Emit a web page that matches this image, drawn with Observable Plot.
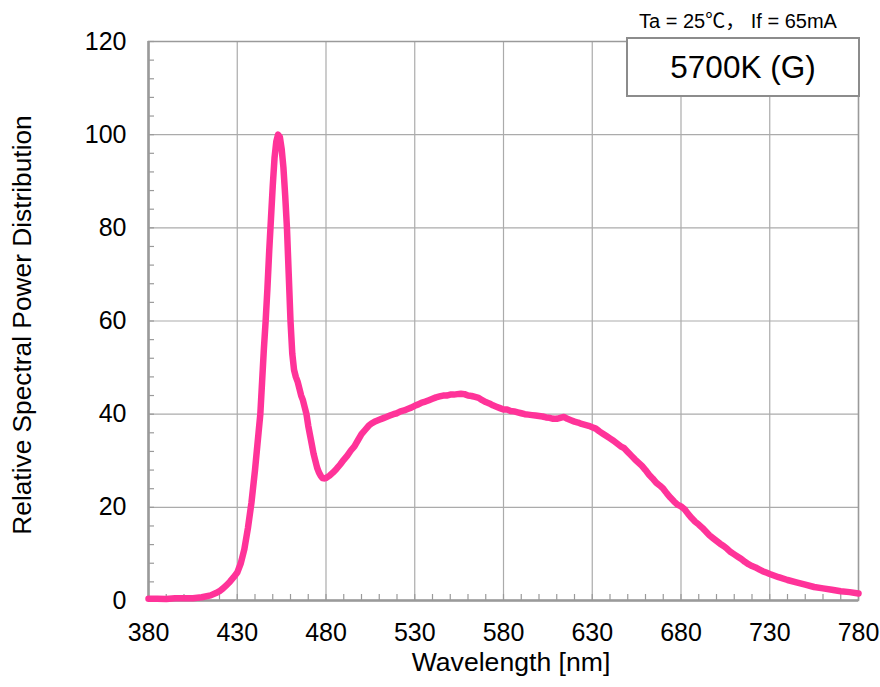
<!DOCTYPE html>
<html>
<head>
<meta charset="utf-8">
<script src="https://cdn.jsdelivr.net/npm/d3@7"></script>
<script src="https://cdn.jsdelivr.net/npm/@observablehq/plot@0.6"></script>
<style>
  html, body { margin: 0; padding: 0; background: #fff; }
  #wrap { position: relative; width: 880px; height: 687px; font-family: "Liberation Sans", Arial, "Noto Sans CJK JP", sans-serif; color: #000; }
  #wrap svg { position: absolute; left: 0; top: 0; }
  .ann { position: absolute; white-space: pre; }
</style>
</head>
<body>
<div id="wrap"></div>
<script>
// Wavelength (nm) and relative spectral power
const wavelength = [380,385,390,395,400,405,410,415,418,420,422,424,426,428,430,432,434,436,438,440,441,442,443,444,445,446,447,448,449,450,451,452,453,454,455,456,457,458,459,460,461,462,463,464,465,466,467,468,469,470,471,472,473,474,475,476,477,478,479,480,482,484,486,488,490,492,494,496,498,500,502,504,506,508,510,512,514,516,518,520,522,524,526,528,530,532,534,536,538,540,542,544,546,548,550,552,554,556,558,560,562,564,566,568,570,572,574,576,578,580,582,584,586,588,590,592,594,596,598,600,602,604,606,608,610,612,614,616,618,620,622,624,626,628,630,632,634,636,638,640,642,644,646,648,650,652,654,656,658,660,662,664,666,668,670,672,674,676,678,680,682,684,686,688,690,692,694,696,698,700,702,704,706,708,710,712,714,716,718,720,722,724,726,728,730,735,740,745,750,755,760,765,770,775,780];
const power = [0.4,0.4,0.3,0.5,0.5,0.5,0.7,1.1,1.6,2.0,2.6,3.3,4.1,5.0,6.0,8.0,11,15.5,21,28,32,36,40,47,54,60,67,75,82,89,95,98.5,100,99.5,97,93,87,80,70,60,53,49.5,48,47,45.5,44,43,41.5,40,37.5,35.5,33.5,31.5,30,28.5,27.5,26.8,26.3,26.2,26.3,26.8,27.5,28.3,29.2,30.2,31.1,32.2,33.1,34.4,35.7,36.6,37.5,38.1,38.5,38.8,39.1,39.4,39.7,40.0,40.2,40.6,40.8,41.1,41.4,41.8,42.1,42.5,42.7,43.0,43.3,43.6,43.8,44.0,44.0,44.2,44.2,44.3,44.4,44.3,44.0,43.9,43.7,43.5,43.0,42.6,42.3,41.9,41.6,41.3,41.0,41.0,40.7,40.6,40.4,40.2,40.0,39.9,39.8,39.7,39.6,39.5,39.3,39.2,39.0,39.0,39.2,39.4,39.0,38.7,38.4,38.2,37.9,37.7,37.5,37.2,36.9,36.3,35.8,35.3,34.8,34.3,33.7,33.1,32.7,31.9,31.1,30.3,29.6,28.9,28.0,27.0,26.2,25.3,24.7,24.0,23.0,22.1,21.3,20.6,20.2,19.6,18.6,17.7,16.9,16.3,15.6,14.8,14.0,13.4,12.8,12.2,11.7,11.1,10.4,9.9,9.4,8.9,8.3,7.8,7.4,7.1,6.7,6.3,6.0,5.7,5.0,4.4,3.9,3.4,2.9,2.6,2.3,2.0,1.8,1.5];

const xTicks = [380,430,480,530,580,630,680,730,780];
const yTicks = [0,20,40,60,80,100,120];
const xMinor = d3.range(380, 781, 10);
const yMinor = d3.range(0, 121, 4);

const xLabel = "Wavelength [nm]";
const yLabel = "Relative Spectral Power Distribution";
const condition = "Ta = 25℃， If = 65mA";
const boxLabel = "5700K (G)";

const data = wavelength.map((w, i) => ({w, p: power[i]}));

const gridColor = "#ababab";
const axisColor = "#9a9a9a";

const chart = Plot.plot({
  width: 880,
  height: 687,
  marginLeft: 148,
  marginRight: 22,
  marginTop: 41,
  marginBottom: 87,
  style: {fontFamily: "'Liberation Sans', Arial, sans-serif", fontSize: "25px", color: "#000", background: "#fff"},
  x: {domain: [380, 780], label: null},
  y: {domain: [0, 120], label: null},
  marks: [
    Plot.gridX(xTicks, {stroke: gridColor, strokeOpacity: 1, strokeWidth: 1.2}),
    Plot.gridY(yTicks, {stroke: gridColor, strokeOpacity: 1, strokeWidth: 1.2}),
    Plot.frame({stroke: axisColor, strokeWidth: 1.5}),
    Plot.axisX(xMinor, {tickSize: -6, tickFormat: () => "", stroke: axisColor, strokeWidth: 1.2}),
    Plot.axisY(yMinor, {tickSize: -6, tickFormat: () => "", stroke: axisColor, strokeWidth: 1.2}),
    Plot.axisX(xTicks, {tickSize: 0, tickPadding: 23, fontSize: 25, fill: "#000", label: null}),
    Plot.axisY(yTicks, {tickSize: 0, tickPadding: 22, fontSize: 25, fill: "#000", label: null}),
    Plot.ruleX([380], {stroke: axisColor, strokeWidth: 2.5}),
    Plot.ruleY([0], {stroke: axisColor, strokeWidth: 2.5}),
    Plot.line(data, {x: "w", y: "p", stroke: "#ff3399", strokeWidth: 6.5, strokeLinejoin: "round", strokeLinecap: "round", curve: "linear"})
  ]
});

const wrap = document.getElementById("wrap");
wrap.appendChild(chart);

function ann(text, css) {
  const d = document.createElement("div");
  d.className = "ann";
  d.textContent = text;
  Object.assign(d.style, css);
  wrap.appendChild(d);
  return d;
}

// condition text
ann(condition, {left: "628px", top: "5px", fontSize: "20px", width: "220px", textAlign: "center"});
// boxed label
ann(boxLabel, {left: "626px", top: "37px", width: "230px", height: "56px", lineHeight: "56px", border: "2px solid #8c8c8c", background: "#fff", textAlign: "center", fontSize: "31.5px", boxSizing: "content-box"});
// x label
ann(xLabel, {left: "311px", top: "647px", width: "400px", textAlign: "center", fontSize: "26.6px"});
// y label
ann(yLabel, {left: "22px", top: "325px", fontSize: "26.3px", transform: "translate(-50%, -50%) rotate(-90deg)"});
</script>
</body>
</html>
